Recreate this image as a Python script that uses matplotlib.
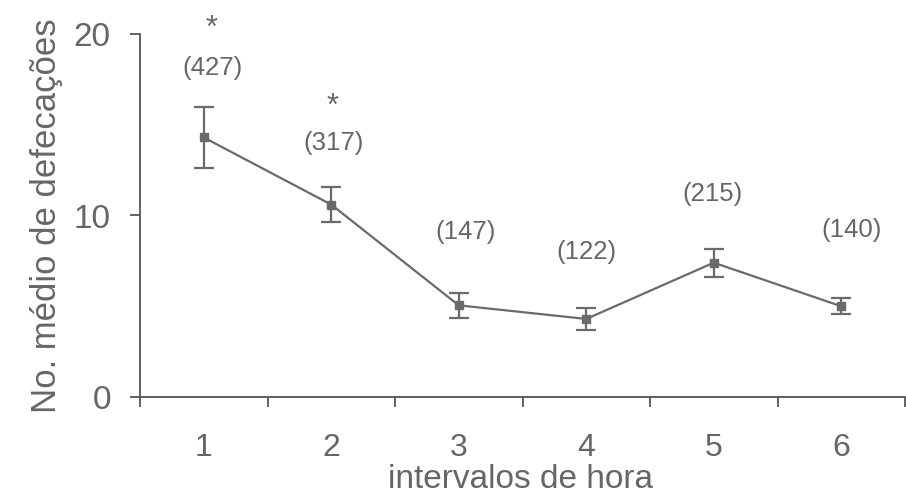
import matplotlib
matplotlib.use("Agg")
import matplotlib.pyplot as plt

plt.rcParams['font.family'] = ['Liberation Sans', 'DejaVu Sans']

# mean defecations per hour interval, with standard error
intervals = [1, 2, 3, 4, 5, 6]
means = [14.3, 10.6, 5.05, 4.3, 7.4, 5.0]
errors = [1.7, 0.95, 0.68, 0.62, 0.78, 0.45]
counts = ['(427)', '(317)', '(147)', '(122)', '(215)', '(140)']
count_x = [1.07, 2.02, 3.05, 4.0, 4.99, 6.08]
count_y = [18.1, 14.0, 9.1, 8.0, 11.2, 9.2]
signif = [True, True, False, False, False, False]
star_y = [20.3, 16.0]

gray = '#6a6a6a'
axis_gray = '#555555'
text_gray = '#666666'

fig = plt.figure(figsize=(9.06, 4.97), dpi=100)
ax = fig.add_axes([140 / 906, 1 - 397 / 497, 765 / 906, 363 / 497])

ax.errorbar(intervals, means, yerr=errors, color=gray, lw=1.6,
            marker='s', ms=6, mfc=gray, mec=gray,
            ecolor=gray, elinewidth=1.6, capsize=7, capthick=1.6)

for x, y, t in zip(count_x, count_y, counts):
    ax.text(x, y, t, ha='center', va='center', fontsize=18.5, color=text_gray,
            clip_on=False)
k = 0
for x, s in zip(count_x, signif):
    if s:
        ax.text(x - 0.01, star_y[k], '*', ha='center', va='center',
                fontsize=22, color=text_gray, clip_on=False)
        k += 1

ax.set_xlim(0.5, 6.5)
ax.set_ylim(0, 20)

# major ticks sit between the intervals, labels go on minor ticks
ax.set_xticks([0.5, 1.5, 2.5, 3.5, 4.5, 5.5, 6.5])
ax.set_xticklabels([])
ax.set_xticks(intervals, minor=True)
ax.set_xticklabels([str(i) for i in intervals], minor=True)
ax.tick_params(axis='x', which='major', direction='out', length=7,
               width=1.3, color=axis_gray)
ax.tick_params(axis='x', which='minor', length=0, pad=26,
               labelsize=23, labelcolor=text_gray)

ax.set_yticks([0, 10, 20])
ax.tick_params(axis='y', direction='out', length=7, width=1.3,
               color=axis_gray, pad=14, labelsize=24, labelcolor=text_gray)

for side in ['top', 'right']:
    ax.spines[side].set_visible(False)
for side in ['left', 'bottom']:
    ax.spines[side].set_color(axis_gray)
    ax.spines[side].set_linewidth(1.3)

ax.set_xlabel('intervalos de hora', fontsize=24, color=text_gray)
ax.xaxis.label.set_verticalalignment('baseline')
ax.xaxis.set_label_coords(0.497, -0.25)
ax.set_ylabel('No. médio de defecações', fontsize=25, color=text_gray,
              labelpad=8)

fig.savefig('out.png', dpi=100)
